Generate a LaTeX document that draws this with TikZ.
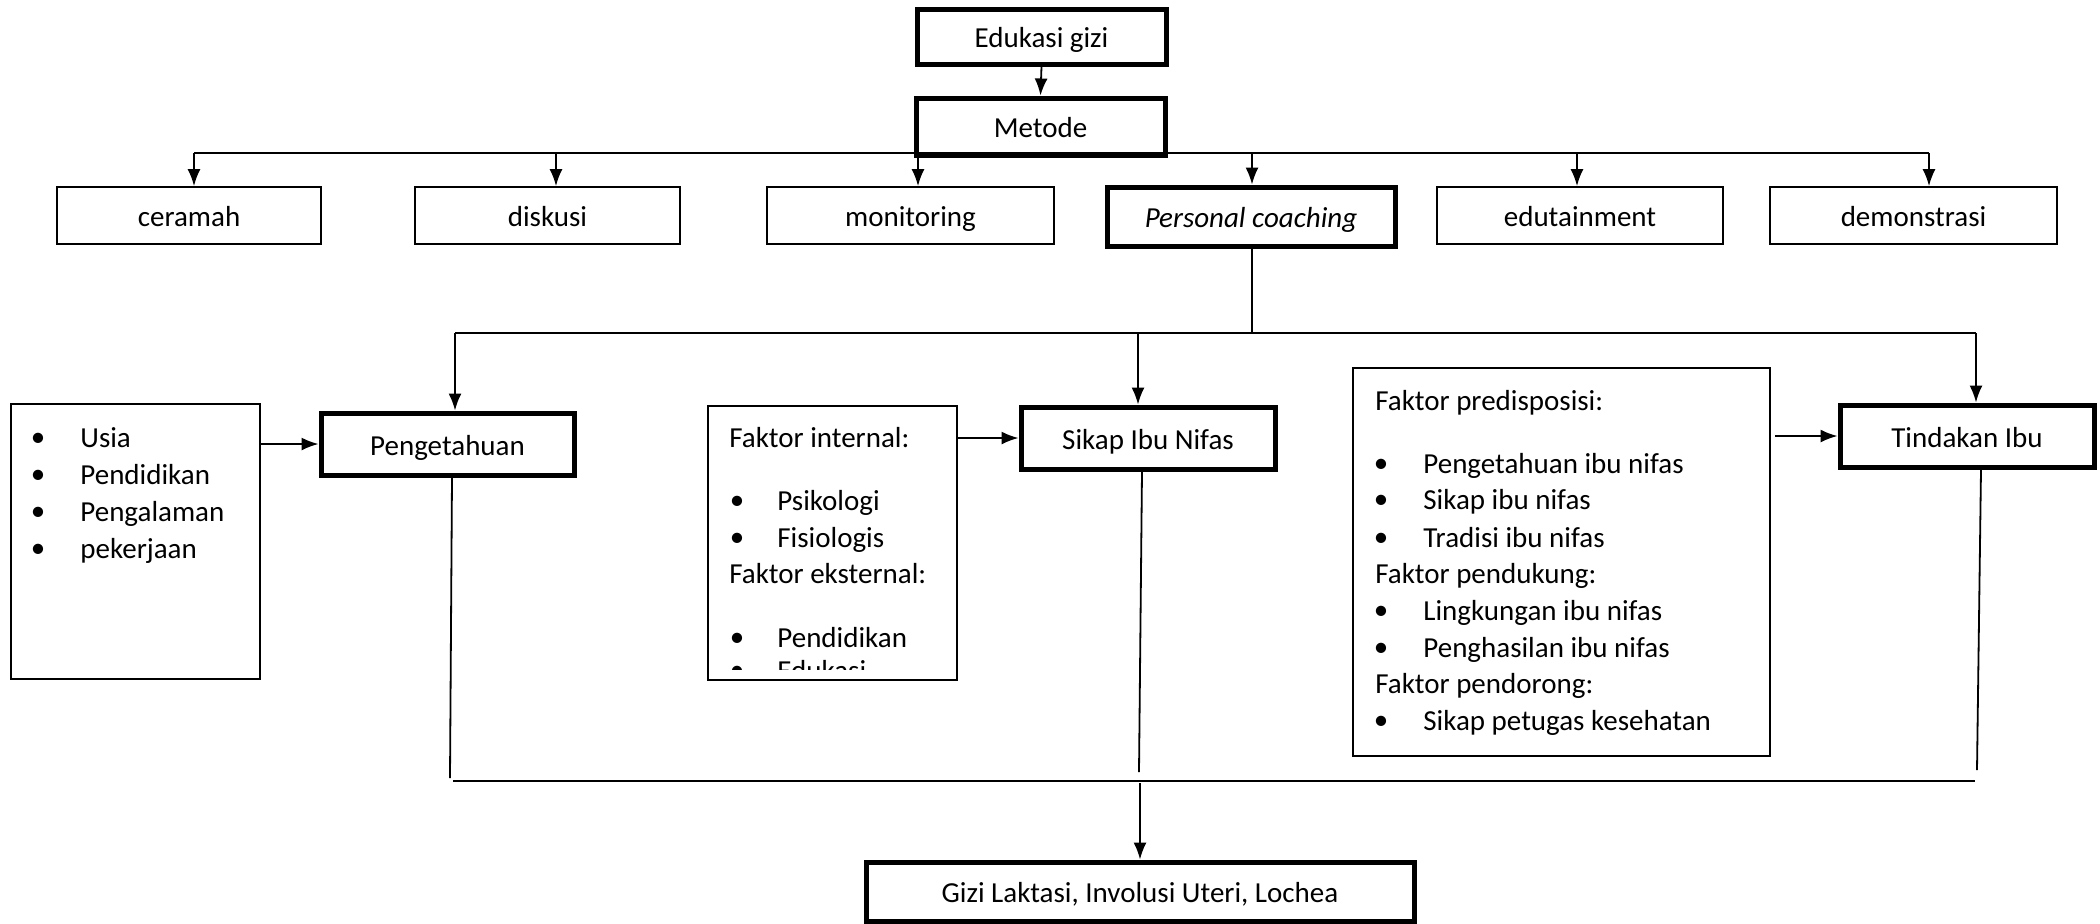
\documentclass[tikz,border=0pt]{standalone}
\usepackage{fontspec}
\setmainfont{Carlito}
\usetikzlibrary{arrows.meta,fit}
\begin{document}
\begin{tikzpicture}[x=0.5pt,y=-0.5pt,
  every node/.style={font=\fontsize{14.5}{18.5}\selectfont},
  tbox/.style={draw, line width=2.5pt, inner sep=0pt},
  nbox/.style={draw, line width=0.9pt, inner sep=0pt},
  conn/.style={line width=0.9pt},
  arr/.style={conn, -{Latex[length=8.5pt,width=6.5pt]}},
  txt/.style={anchor=west, inner sep=0pt, text height=10pt, text depth=3pt, yshift=-1.5pt},
  bul/.style={anchor=center, inner sep=0pt, yshift=-1.5pt},
  ctr/.style={label={[inner sep=0pt, text height=10pt, text depth=3pt, yshift=-2pt]center:#1}},
]
\useasboundingbox (0,0) rectangle (2100,923);

% top
\node[tbox, fit={(917,9)(1166,64)}, ctr={Edukasi gizi}] (edu) {};
\node[tbox, fit={(916,98)(1165,155)}, ctr={Metode}] (met) {};
\draw[arr] (edu.south) -- (met.north);

% methods row
\node[nbox, fit={(57,187)(321,244)}, ctr={ceramah}] (cer) {};
\node[nbox, fit={(415,187)(680,244)}, ctr={diskusi}] (dis) {};
\node[nbox, fit={(767,187)(1054,244)}, ctr={monitoring}] (mon) {};
\node[tbox, fit={(1107,187)(1395,246)}, ctr={\itshape Personal coaching}] (pc) {};
\node[nbox, fit={(1437,187)(1723,244)}, ctr={edutainment}] (edt) {};
\node[nbox, fit={(1770,187)(2057,244)}, ctr={demonstrasi}] (dem) {};

\coordinate (m1) at (194,153);
\coordinate (m2) at (556,153);
\coordinate (m3) at (918,153);
\coordinate (m4) at (1252,153);
\coordinate (m5) at (1577,153);
\coordinate (m6) at (1929,153);
\draw[conn] (m1) -- (m6);
\draw[arr] (m1) -- (m1 |- cer.north);
\draw[arr] (m2) -- (m2 |- dis.north);
\draw[arr] (m3) -- (m3 |- mon.north);
\draw[arr] (m4) -- (m4 |- pc.north);
\draw[arr] (m5) -- (m5 |- edt.north);
\draw[arr] (m6) -- (m6 |- dem.north);

% second level
\coordinate (pcd) at (1252,333);
\coordinate (l1) at (455,333);
\coordinate (l2) at (1138,333);
\coordinate (l3) at (1976,333);
\draw[conn] (pc.south -| pcd) -- (pcd);
\draw[conn] (l1) -- (l3);

\node[tbox, fit={(321,413)(574,475)}, ctr={Pengetahuan}] (peng) {};
\node[tbox, fit={(1021,407)(1275,469)}, ctr={Sikap Ibu Nifas}] (sik) {};
\node[tbox, fit={(1840,405)(2094,467)}, ctr={Tindakan Ibu}] (tind) {};

\draw[arr] (l1) -- (l1 |- peng.north);
\draw[arr] (l2) -- (l2 |- sik.north);
\draw[arr] (l3) -- (l3 |- tind.north);

% side boxes
\node[nbox, fit={(11,404)(260,679)}] (lst) {};
\node[nbox, fit={(708,406)(957,680)}] (fi) {};
\node[nbox, fit={(1353,368)(1770,756)}] (fp) {};

\draw[arr] (lst.north east |- peng.west) -- (peng.west);
\draw[arr] (fi.north east |- sik.west) -- (sik.west);
\draw[arr] (fp.north east |- tind.west) ++(4,0) -- (tind.west);

% list texts
\foreach \t/\y [count=\i] in {Usia/437, Pendidikan/474, Pengalaman/511, pekerjaan/548}{
  \node[bul] (lb\i) at (38,\y) {•};
  \node[txt] (lt\i) at (80,\y) {\t};
}

\node[txt] (fi1) at (729,437) {Faktor internal:};
\node[bul] (fib1) at (737,500) {•};
\node[txt] (fit1) at (777,500) {Psikologi};
\node[bul] (fib2) at (737,537) {•};
\node[txt] (fit2) at (777,537) {Fisiologis};
\node[txt] (fi2) at (729,573) {Faktor eksternal:};
\node[bul] (fib3) at (737,637) {•};
\node[txt] (fit3) at (777,637) {Pendidikan};
\begin{scope}
  \clip (708,406) rectangle (957,669);
  \node[bul] (fib4) at (737,670) {•};
  \node[txt] (fit4) at (777,670) {Edukasi};
\end{scope}

\node[txt] (fp1) at (1375,400) {Faktor predisposisi:};
\node[bul] (fpb1) at (1381,463) {•};
\node[txt] (fpt1) at (1423,463) {Pengetahuan ibu nifas};
\node[bul] (fpb2) at (1381,499) {•};
\node[txt] (fpt2) at (1423,499) {Sikap ibu nifas};
\node[bul] (fpb3) at (1381,537) {•};
\node[txt] (fpt3) at (1423,537) {Tradisi ibu nifas};
\node[txt] (fp2) at (1375,573) {Faktor pendukung:};
\node[bul] (fpb4) at (1381,610) {•};
\node[txt] (fpt4) at (1423,610) {Lingkungan ibu nifas};
\node[bul] (fpb5) at (1381,647) {•};
\node[txt] (fpt5) at (1423,647) {Penghasilan ibu nifas};
\node[txt] (fp3) at (1375,683) {Faktor pendorong:};
\node[bul] (fpb6) at (1381,720) {•};
\node[txt] (fpt6) at (1423,720) {Sikap petugas kesehatan};

% bottom
\coordinate (b1) at (453,781);
\coordinate (b2) at (1975,781);
\coordinate (bm) at (1140,783);
\draw[conn] (b1) -- (b2);
\draw[conn] (peng.south -| 452,0) -- (450,778);
\draw[conn] (sik.south -| 1142,0) -- (1139,772);
\draw[conn] (tind.south -| 1981,0) -- (1977,770);

\node[tbox, fit={(866,862)(1414,921)}, ctr={Gizi Laktasi, Involusi Uteri, Lochea}] (fin) {};
\draw[arr] (bm) -- (fin.north);
\end{tikzpicture}
\end{document}
